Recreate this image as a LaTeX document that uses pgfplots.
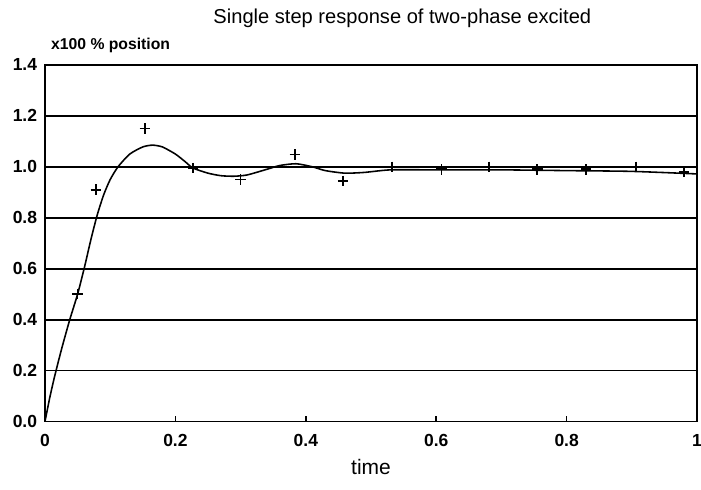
\documentclass[border=0pt]{standalone}
\usepackage{fontspec}
\setmainfont{Liberation Sans}
\usepackage{pgfplots}
\pgfplotsset{compat=1.18}
\begin{document}
\begin{tikzpicture}
\begin{axis}[
    scale only axis,
    width=373pt, height=204pt,
    xmin=0, xmax=1, ymin=0, ymax=1.4,
    xtick={0,0.2,0.4,0.6,0.8,1},
    xticklabels={0,0.2,0.4,0.6,0.8,1},
    ytick={0,0.2,0.4,0.6,0.8,1,1.2,1.4},
    yticklabels={0.0,0.2,0.4,0.6,0.8,1.0,1.2,1.4},
    ymajorgrids,
    grid style={black, line width=1pt},
    axis line style={line width=1pt},
    xtick pos=bottom, ytick pos=left,
    tick align=inside,
    major tick length=3pt,
    x tick style={black, line width=0.9pt},
    y tick style={draw=none},
    tick label style={font=\bfseries},
    xticklabel style={yshift=-4pt},
    yticklabel style={xshift=-1pt},
    clip=false,
]
% fitted response curve
\addplot[black, line width=0.9pt, smooth, tension=0.4] coordinates {
    (0,0) (0.007,0.09) (0.015,0.18) (0.026,0.29) (0.038,0.4) (0.05,0.5)
    (0.06,0.6) (0.07,0.71) (0.08,0.81) (0.09,0.89) (0.1,0.95) (0.112,1.0)
    (0.13,1.05) (0.15,1.078) (0.165,1.085) (0.18,1.078) (0.2,1.05)
    (0.215,1.02) (0.227,0.995) (0.25,0.975) (0.27,0.965) (0.29,0.963)
    (0.31,0.968) (0.34,0.99) (0.36,1.005) (0.385,1.012) (0.41,1.0)
    (0.43,0.985) (0.46,0.975) (0.49,0.978) (0.53,0.988) (0.6,0.988)
    (0.7,0.988) (0.8,0.985) (0.9,0.982) (1.0,0.972)
};
% measured points
\addplot[only marks, mark=+, mark size=3pt, line width=1pt, black] coordinates {
    (0.05,0.5) (0.078,0.91) (0.153,1.15) (0.227,0.995) (0.30,0.95)
    (0.383,1.048) (0.457,0.945) (0.532,1.0) (0.608,0.99) (0.681,1.0)
    (0.755,0.99) (0.83,0.99) (0.906,1.0) (0.98,0.98)
};
\node[font=\fontsize{11.5}{13}\selectfont] at (rel axis cs:0.548,1.13) {Single step response of two-phase excited};
\node[font=\bfseries\small, anchor=west] at (rel axis cs:0.0,1.055) {x100 \% position};
\node[font=\large] at (rel axis cs:0.5,-0.128) {time};
\coordinate (bbl) at (rel axis cs:-0.069,-0.19);
\coordinate (bur) at (rel axis cs:1.006,1.182);
\end{axis}
\pgfresetboundingbox
\useasboundingbox (bbl) rectangle (bur);
\end{tikzpicture}
\end{document}
